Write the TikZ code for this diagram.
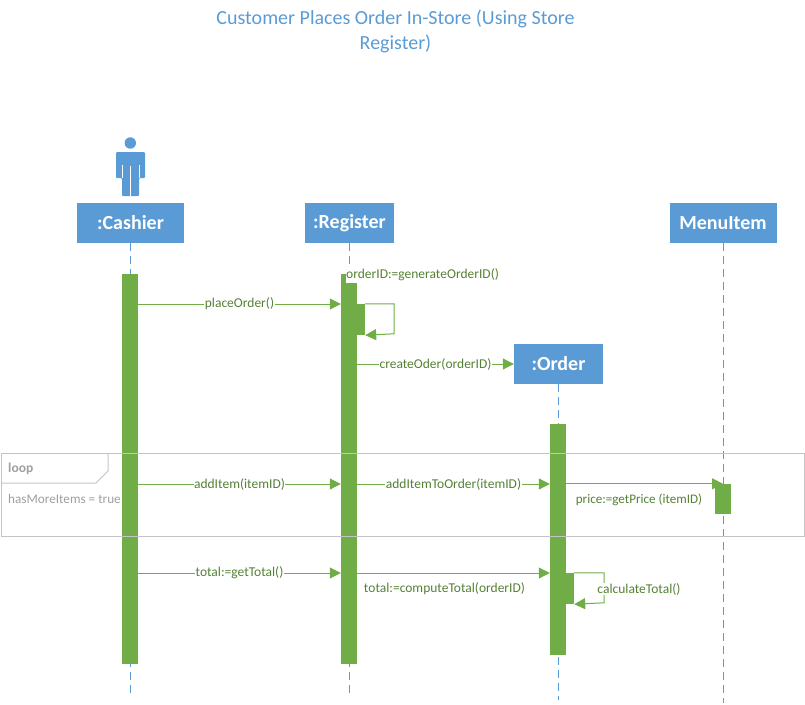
\documentclass[tikz,border=0pt]{standalone}
\usepackage{fontspec}
\setmainfont{Carlito}
\usetikzlibrary{positioning,arrows.meta}
\definecolor{boxblue}{HTML}{5B9BD5}
\definecolor{barzgreen}{HTML}{70AD47}
\definecolor{txtgreen}{HTML}{548235}
\definecolor{framegray}{HTML}{C4C4C4}
\tikzset{
    actorbox/.style={fill=boxblue,text=white,inner sep=0pt,minimum height=40pt,font=\fontsize{20}{22}\selectfont\bfseries},
    lifeline/.style={draw=boxblue,dashed,dash pattern=on 8pt off 5pt,line width=0.9pt},
    activebar/.style={fill=barzgreen,inner sep=0pt,minimum width=16pt},
    msg/.style={draw=barzgreen,line width=1pt,-{Triangle[width=11pt,length=11pt]}},
    msglabel/.style={text=txtgreen,font=\fontsize{13.5}{15}\selectfont,inner sep=0.5pt},
    msgfill/.style={msglabel,fill=white},
    framelabel/.style={text=gray!75,font=\fontsize{13.2}{15}\selectfont,inner sep=0pt}
}
\begin{document}
\begin{tikzpicture}[x=1pt,y=-1pt]
    \useasboundingbox (0,0) rectangle (805,704);
    \node[align=center,text=boxblue,font=\fontsize{20}{25}\selectfont] (title) at (395.5,31) {Customer Places Order In-Store (Using Store\\Register)};

    % the actor above the cashier box
    \fill[boxblue] (130.3,143) circle (5.7);
    \fill[boxblue,rounded corners=1pt] (116,152) -- (145,152) -- (145,178) -- (139,178) -- (139,196) -- (122,196) -- (122,178) -- (116,178) -- cycle;
    \draw[white,line width=0.4pt] (122,165) -- (122,178) (139,165) -- (139,178) (130.5,166) -- (130.5,196);

    \node[actorbox,minimum width=107pt] (cashier) at (130.5,223) {:Cashier};
    \node[actorbox,minimum width=89pt] (register) at (349.5,223) {:Register};
    \node[actorbox,minimum width=107pt] (menuitem) at (723,223) {MenuItem};
    \node[actorbox,minimum width=89pt] (order) at (558.5,364) {:Order};

    \coordinate (cashierEnd) at (130.5,695);
    \coordinate (registerEnd) at (349.5,695);
    \coordinate (orderEnd) at (558.5,700);
    \coordinate (menuitemEnd) at (723,703);
    \foreach \who in {cashier,register,order,menuitem}
        \draw[lifeline] (\who.south) -- (\who End);

    \node[activebar,minimum height=390pt] (cashierBar) at (130,469) {};
    \node[activebar,minimum height=390pt] (registerBar) at (349,469) {};
    \node[activebar,minimum height=31pt] (registerSelf) at (357,319.5) {};
    \node[activebar,minimum height=231pt] (orderBar) at (558,539.5) {};
    \node[activebar,minimum height=31pt] (orderSelf) at (566,588.5) {};
    \node[activebar,minimum height=30pt] (menuitemBar) at (723,499) {};

    \node[msgfill,anchor=west,inner sep=0pt,minimum height=16pt] (generate) at (346,274.5) {orderID:=generateOrderID()};

    \draw[msg] (cashierBar.east |- 0,304) -- node[msgfill] (placeLabel) {placeOrder()} (registerBar.west |- 0,304);
    \draw[msg] (registerSelf.north east) -- ++(29,0) -- ++(0,30) -- (registerSelf.south east);
    \draw[msg] (registerBar.east |- order) -- node[msgfill] (createLabel) {createOder(orderID)} (order.west);

    \draw[msg] (cashierBar.east |- 0,484) -- node[msgfill] (addLabel) {addItem(itemID)} (registerBar.west |- 0,484);
    \draw[msg] (registerBar.east |- 0,484) -- node[msgfill] (addOrderLabel) {addItemToOrder(itemID)} (orderBar.west |- 0,484);
    \draw[msg] (orderBar.east |- menuitemBar.north) -- (menuitemBar.north);
    \node[msglabel,font=\fontsize{13.1}{15}\selectfont] (priceLabel) at (639,500) {price:=getPrice (itemID)};

    \draw[msg] (cashierBar.east |- 0,573) -- node[msgfill] (totalLabel) {total:=getTotal()} (registerBar.west |- 0,573);
    \draw[msg] (registerBar.east |- 0,573) -- (orderBar.west |- 0,573);
    \node[msglabel] (computeLabel) at (444.5,589) {total:=computeTotal(orderID)};
    \draw[msg] (orderSelf.north east) -- ++(30,0) -- ++(0,30) -- (orderSelf.south east);
    \node[msgfill] (calcLabel) at (639,589) {calculateTotal()};

    % loop frame goes over the bars
    \draw[framegray,line width=1pt] (1,453) rectangle (804,536);
    \draw[framegray,line width=1pt] (1,483) -- (96,483) -- (108,471) -- (108,453);
    \node[framelabel,anchor=west,font=\fontsize{13.5}{15}\selectfont\bfseries] (loopLabel) at (8,468.5) {loop};
    \node[framelabel,anchor=west] (guardLabel) at (8,498.5) {hasMoreItems = true};
\end{tikzpicture}
\end{document}
